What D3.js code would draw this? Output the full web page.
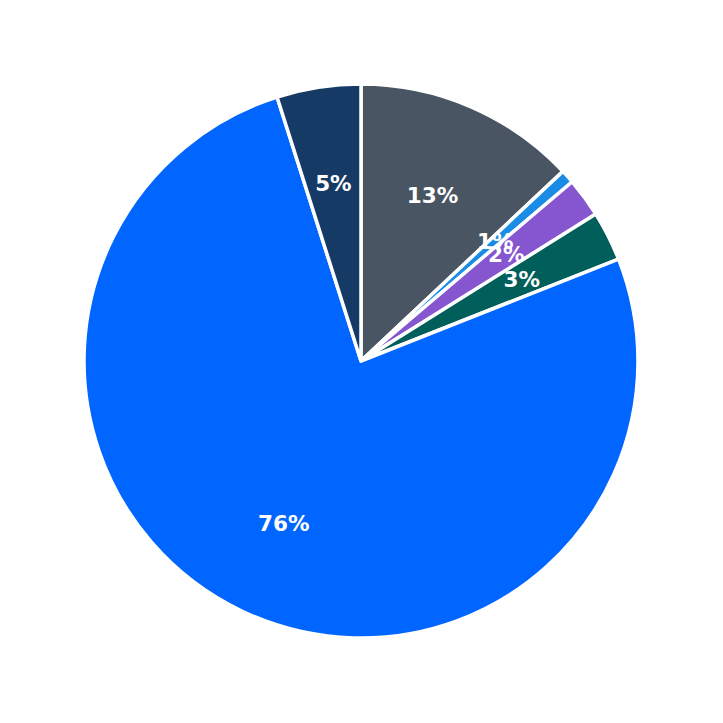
<!DOCTYPE html>
<html>
<head>
<script src="https://d3js.org/d3.v7.min.js"></script>
<style>
	body { margin: 0; background: #fff; }
</style>
</head>
<body>
<script>

// slice shares, clockwise from 12 o'clock
const categories = ["A", "B", "C", "D", "E", "F"];
const values = [13.0, 0.8, 2.3, 2.9, 76.1, 4.9];
const colors = ["#4a5563", "#1a8ce6", "#8556cf", "#005f5a", "#0066ff", "#153a66"];

const width = 723, height = 723;
const cx = 361, cy = 361, radius = 277;

var svg = d3.select("body")
	.append("svg")
	.attr("width", width)
	.attr("height", height);

var pie = d3.pie().sort(null).value(d => d);
var arcs = pie(values);

var arc = d3.arc().innerRadius(0).outerRadius(radius);
var labelArc = d3.arc().innerRadius(radius * 0.65).outerRadius(radius * 0.65);

var g = svg.append("g")
	.attr("transform", "translate(" + cx + "," + cy + ")");

g.selectAll("path")
	.data(arcs)
	.enter()
	.append("path")
	.attr("d", arc)
	.attr("fill", (d, i) => colors[i])
	.attr("stroke", "#fff")
	.attr("stroke-width", 3.5)
	.attr("stroke-linejoin", "round");

g.selectAll("text")
	.data(arcs)
	.enter()
	.append("text")
	.attr("transform", d => "translate(" + labelArc.centroid(d) + ")")
	.attr("text-anchor", "middle")
	.attr("dy", "0.35em")
	.attr("fill", "#fff")
	.style("font-family", "DejaVu Sans, sans-serif")
	.style("font-weight", "bold")
	.style("font-size", "21.5px")
	.text(d => Math.round(d.data) + "%");

</script>
</body>
</html>
